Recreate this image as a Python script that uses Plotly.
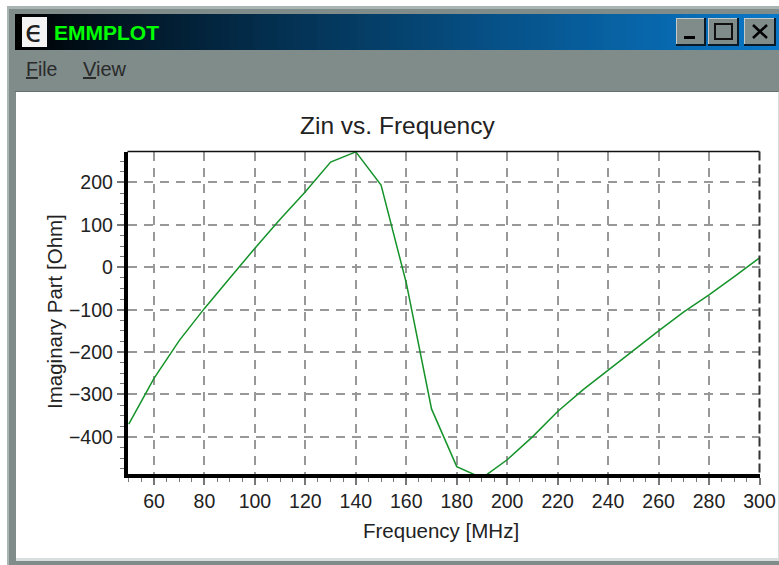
import plotly.graph_objects as go

freq_mhz = [50, 60, 70, 80, 90, 100, 110, 120, 130, 140, 150, 160, 170, 180, 190,
            200, 210, 220, 230, 240, 250, 260, 270, 280, 290, 300]
imag_ohm = [-370, -262, -173, -97, -26, 45, 113, 178, 248, 272, 194, -37, -334, -470, -497,
            -454, -400, -340, -289, -242, -195, -150, -105, -65, -22, 22]
chart_title = "Zin vs. Frequency"
x_title = "Frequency [MHz]"
y_title = "Imaginary Part [Ohm]"
window_title = "EMMPLOT"
menu_items = ["<u>F</u>ile", "<u>V</u>iew"]

W, H = 779, 565
L, R, T, B = 127.5, 759.5, 151.5, 474.0
FRAME = "#7f8c8a"


def px(x):
    return x / W


def py(y):
    return 1 - y / H


def rect(x0, y0, x1, y1, fill, layer="below"):
    return dict(type="rect", xref="paper", yref="paper", x0=px(x0), x1=px(x1), y0=py(y0), y1=py(y1),
                fillcolor=fill, line=dict(width=0), layer=layer)


def seg(x0, y0, x1, y1, color, width, dash="solid", layer="above"):
    return dict(type="line", xref="paper", yref="paper", x0=px(x0), x1=px(x1), y0=py(y0), y1=py(y1),
                line=dict(color=color, width=width, dash=dash), layer=layer)


def label(text, x, y, size, color="#222222", family="Liberation Sans", xanchor="center", **kw):
    font = dict(family=family, size=size, color=color)
    font.update(kw.pop("font_extra", {}))
    return dict(text=text, x=px(x), y=py(y), xref="paper", yref="paper", xanchor=xanchor, yanchor="middle",
                showarrow=False, font=font, **kw)


shapes = [
    rect(7, 6, 779, 565, "#a9b5b3"),
    rect(9, 9, 779, 565, FRAME),
    rect(16, 92, 778, 558, "#ffffff"),
    rect(16, 558, 779, 561, "#d8dedd"),
    rect(778, 92, 779, 561, "#d8dedd"),
    rect(15, 91, 778, 92, "#66716f"),
]

# title bar gradient, black to blue
start, stop = (0, 0, 0), (10, 120, 200)
n = 96
bx0, bx1 = 15, 778
for i in range(n):
    t = (i / (n - 1)) ** 0.85
    c = tuple(int(a + (b - a) * t) for a, b in zip(start, stop))
    shapes.append(rect(bx0 + (bx1 - bx0) * i / n, 14, bx0 + (bx1 - bx0) * (i + 1) / n + 1, 50,
                       "rgb(%d,%d,%d)" % c))

# icon and window buttons
shapes.append(rect(22, 17, 47, 47, "#f4f4f4"))
for x0, x1 in [(676, 706), (708, 739), (744, 776)]:
    shapes.append(rect(x0, 18, x1, 46, "#0a1a28"))
    shapes.append(rect(x0, 18, x1 - 2, 44, "#c4cbca"))
    shapes.append(rect(x0 + 1, 19, x1 - 2, 44, FRAME))
shapes.append(rect(684, 36, 695, 39, "#000000"))
shapes.append(dict(type="rect", xref="paper", yref="paper", x0=px(715), x1=px(732), y0=py(24), y1=py(39),
                   line=dict(color="#101010", width=2), fillcolor="rgba(0,0,0,0)", layer="below"))
shapes.append(seg(753, 25, 767, 38, "#000000", 2.5))
shapes.append(seg(767, 25, 753, 38, "#000000", 2.5))

# frame of the plot
shapes.append(seg(L, T, R, T, "#111111", 1.5))
shapes.append(seg(R, T, R, B, "#333333", 2, dash="9px,4px"))

fig = go.Figure(go.Scatter(x=freq_mhz, y=imag_ohm, mode="lines",
                           line=dict(color="#15932a", width=1.5), hoverinfo="skip"))

annotations = [
    label(window_title, 52, 32, 21, "#00ff00", xanchor="left", font_extra=dict(weight="bold")),
    label("ϵ", 34, 31, 30, "#202020", family="DejaVu Sans"),
    label(menu_items[0], 24, 69, 19.5, "#2a2a2a", xanchor="left"),
    label(menu_items[1], 81, 69, 20, "#2a2a2a", xanchor="left"),
    label(chart_title, 397, 125, 24.5),
    label(x_title, 441, 530, 20.5),
    label(y_title, 54, 312, 20.5, textangle=-90),
]

grid = dict(showgrid=True, gridcolor="#989898", gridwidth=1.5, griddash="9px,7px", zeroline=False,
            automargin=False,
            showline=True, linecolor="#000000", linewidth=3.5, ticks="outside", tickcolor="#777777",
            ticklen=7, tickwidth=1.5, tickfont=dict(family="Liberation Sans", size=19.5, color="#222222"))

fig.update_layout(
    width=W, height=H, autosize=False, margin=dict(l=0, r=0, t=0, b=0),
    paper_bgcolor="#ffffff", plot_bgcolor="rgba(0,0,0,0)", showlegend=False,
    shapes=shapes, annotations=annotations,
    xaxis=dict(domain=[px(L), px(R)], range=[49.5, 300], tick0=60, dtick=20,
               minor=dict(dtick=5, tick0=50, ticks="outside", ticklen=4, tickcolor="#777777", tickwidth=1.2, showgrid=False),
               **grid),
    yaxis=dict(domain=[py(B), py(T)], range=[-487.5, 273], tick0=0, dtick=100,
               minor=dict(dtick=25, tick0=0, ticks="outside", ticklen=4, tickcolor="#777777", tickwidth=1.2, showgrid=False),
               **grid),
)

fig.write_html("out.html", config=dict(displayModeBar=False, responsive=False),
               default_width="779px", default_height="565px",
               post_script="document.body.style.margin='0';document.documentElement.style.overflow='hidden';")
